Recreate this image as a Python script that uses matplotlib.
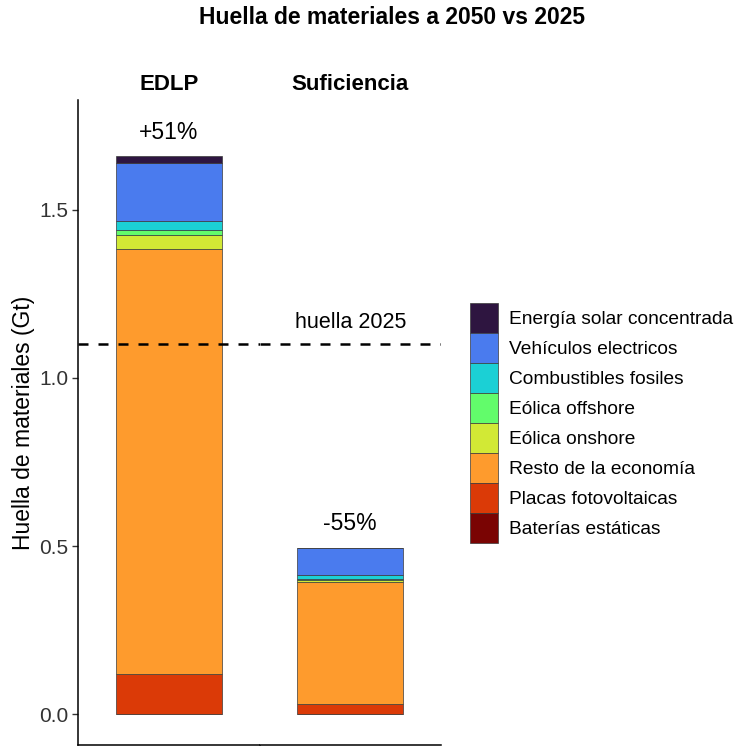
import numpy as np
import matplotlib.pyplot as plt
from matplotlib.patches import Patch

plt.rcParams['font.family'] = ['Liberation Sans', 'DejaVu Sans']

# Stack order: bottom to top
categorias = ['Baterías estáticas', 'Placas fotovoltaicas', 'Resto de la economía',
              'Eólica onshore', 'Eólica offshore', 'Combustibles fosiles',
              'Vehículos electricos', 'Energía solar concentrada']
colores = ['#7a0403', '#db3a07', '#fe9b2d', '#d2e935', '#62fc6b', '#1bd0d5',
           '#4a7bee', '#2e1540']

escenarios = ['EDLP', 'Suficiencia']
edlp = [0.001, 0.119, 1.264, 0.042, 0.015, 0.026, 0.173, 0.020]
suficiencia = [0.001, 0.028, 0.363, 0.007, 0.003, 0.012, 0.079, 0.002]
valores = [edlp, suficiencia]
etiquetas = ['+51%', '-55%']
huella_2025 = 1.10

fig = plt.figure(figsize=(7.54, 7.54), dpi=100)
left, right = 78 / 754, 441 / 754
bottom, top = 1 - 745 / 754, 1 - 100 / 754
w = (right - left) / 2

axes = []
for i, (esc, vals, lab) in enumerate(zip(escenarios, valores, etiquetas)):
    ax = fig.add_axes([left + i * w, bottom, w, top - bottom])
    axes.append(ax)
    base = 0
    for v, c in zip(vals, colores):
        ax.bar(0, v, bottom=base, width=0.7, color=c, edgecolor='#3a3a3a', linewidth=0.5)
        base += v
    ax.text(0, base + 0.037, lab, ha='center', va='bottom', fontsize=16.5)
    ax.axhline(huella_2025, color='black', linestyle=(0, (4, 4)), linewidth=1.8)
    ax.set_xlim(-0.6, 0.6)
    ax.set_ylim(-0.092, 1.827)
    ax.set_xticks([])
    ax.spines['top'].set_visible(False)
    ax.spines['right'].set_visible(False)
    ax.spines['bottom'].set_linewidth(1.1)
    ax.spines['left'].set_linewidth(1.1)
    ax.text(0.5, 1.007, esc, transform=ax.transAxes, ha='center', va='bottom',
            fontsize=16, fontweight='bold')
    if i == 0:
        ax.set_yticks([0.0, 0.5, 1.0, 1.5])
        ax.set_yticklabels(['0.0', '0.5', '1.0', '1.5'])
        ax.tick_params(axis='y', labelsize=15, labelcolor='#333333', length=4,
                       width=1, color='#333333', pad=3)
        ax.set_ylabel('Huella de materiales (Gt)', fontsize=16.5, labelpad=3)
    else:
        ax.spines['left'].set_visible(False)
        ax.set_yticks([])
        ax.text(0, huella_2025 + 0.035, 'huella 2025', ha='center', va='bottom', fontsize=15.5)

fig.text(0.52, 1 - 18 / 754, 'Huella de materiales a 2050 vs 2025', ha='center', va='center',
         fontsize=16.5, fontweight='bold')

handles = [Patch(facecolor=c, edgecolor='#3a3a3a', linewidth=0.5, label=n)
           for n, c in zip(categorias[::-1], colores[::-1])]
fig.legend(handles=handles, loc='upper left', bbox_to_anchor=(470 / 754, 1 - 303 / 754),
           frameon=False, fontsize=13.8, handlelength=1.46, handleheight=2.03,
           labelspacing=0, handletextpad=0.6, borderpad=0, borderaxespad=0)

fig.savefig('out.png', dpi=100, facecolor='white')
